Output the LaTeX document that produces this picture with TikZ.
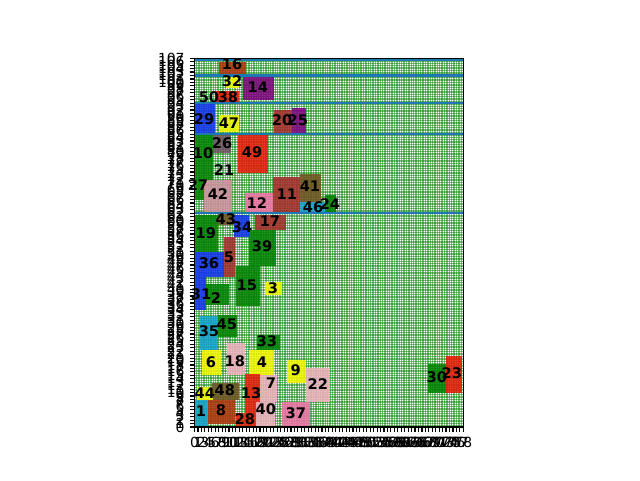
\documentclass[tikz,border=0pt]{standalone}
\usepackage{fontspec}
\setmainfont{DejaVu Sans}
\definecolor{mplblue}{HTML}{1F77B4}
\definecolor{mplgreen}{HTML}{008000}
\definecolor{boxred}{HTML}{E81808}
\definecolor{boxrust}{HTML}{B0300A}
\definecolor{boxbrown}{HTML}{A52A2A}
\definecolor{boxolive}{HTML}{6E5020}
\definecolor{boxplum}{HTML}{6E5060}
\definecolor{boxpurple}{HTML}{800080}
\definecolor{boxpink}{HTML}{F070A8}
\definecolor{boxmauve}{HTML}{D090A0}
\definecolor{boxpale}{HTML}{F0B0C0}
\definecolor{boxcyan}{HTML}{10A0D0}
\definecolor{boxblue}{HTML}{1030F0}
\definecolor{boxyellow}{HTML}{F8F800}
\tikzset{
  idlabel/.style={font=\fontsize{10.4}{12}\selectfont\bfseries, inner sep=0pt},
  ticklabel/.style={font=\fontsize{9.9}{11}\selectfont, inner sep=0pt},
  hatchline/.style={mplgreen, line width=0.55pt, opacity=0.5},
  boxfill/.style={fill opacity=0.86},
  shelf/.style={mplblue, line width=1.5pt},
  spine/.style={black, line width=0.8pt},
}
\begin{document}
\begin{tikzpicture}[x=0.08615cm, y=0.08615cm]
  \useasboundingbox (-56.44,-15.38) rectangle (129.28,123.91);
  % Bin
  \fill[white] (0,0) rectangle (78,107);
  \foreach \i in {0,0.5,...,78} \draw[hatchline] (\i,0) -- (\i,107);
  \foreach \j in {0,0.5,...,107} \draw[hatchline] (0,\j) -- (78,\j);
  % Top shelves
  \fill[boxfill, boxrust] (7,102) rectangle (15,106);
  \fill[boxfill, boxyellow] (9,98.4) rectangle (13,102);
  \fill[boxfill, boxpurple] (14,95) rectangle (23,102);
  \fill[boxfill, boxred] (6,94) rectangle (13,97.5);
  \fill[boxfill, boxblue] (0,85.3) rectangle (6,93.6);
  \fill[boxfill, boxyellow] (7,85.6) rectangle (13,90.5);
  \fill[boxfill, boxbrown] (23,85.3) rectangle (28.2,92.1);
  \fill[boxfill, boxpurple] (28.2,85.3) rectangle (32.5,92.7);
  % Middle shelf
  \fill[boxfill, mplgreen] (0,71.6) rectangle (5.5,85);
  \fill[boxfill, boxplum] (5.5,79.4) rectangle (10.5,85);
  \fill[boxfill, boxred] (12.5,73.7) rectangle (21.4,85);
  \fill[boxfill, mplgreen] (0,65.8) rectangle (2.8,71.6);
  \fill[boxfill, boxmauve] (2.8,62) rectangle (11,71.6);
  \fill[boxfill, boxpink] (14.6,62) rectangle (22.8,67.8);
  \fill[boxfill, boxbrown] (22.8,62) rectangle (30.6,72.5);
  \fill[boxfill, boxolive] (30.6,65.3) rectangle (36.6,73.4);
  \fill[boxfill, boxcyan] (30.6,62) rectangle (37.8,65.3);
  \fill[boxfill, mplgreen] (37.8,62) rectangle (41.2,67.3);
  % Bottom shelf
  \fill[boxfill, boxolive] (6.9,58.6) rectangle (11.5,62);
  \fill[boxfill, boxblue] (11.5,55) rectangle (15.9,61.5);
  \fill[boxfill, boxbrown] (17.5,57.3) rectangle (26.5,61.5);
  \fill[boxfill, mplgreen] (0,50.8) rectangle (6.9,61.5);
  \fill[boxfill, mplgreen] (15.9,46.7) rectangle (23.6,57.3);
  \fill[boxfill, boxbrown] (8.6,43.6) rectangle (11.7,55);
  \fill[boxfill, boxblue] (0,43.6) rectangle (8.6,50.8);
  \fill[boxfill, boxblue] (0,33.9) rectangle (3.3,43.6);
  \fill[boxfill, mplgreen] (3.3,35.4) rectangle (10,41.5);
  \fill[boxfill, mplgreen] (12,35) rectangle (19,46.7);
  \fill[boxfill, boxyellow] (20.4,38.3) rectangle (25.3,42.1);
  \fill[boxfill, boxcyan] (1.6,22.3) rectangle (6.9,32.2);
  \fill[boxfill, mplgreen] (6.9,26.2) rectangle (12.2,32.5);
  \fill[boxfill, mplgreen] (18.2,22.3) rectangle (24.8,26.7);
  \fill[boxfill, boxyellow] (2.1,15.1) rectangle (7.6,22.3);
  \fill[boxfill, boxpale] (9.3,15.1) rectangle (14.6,24.4);
  \fill[boxfill, boxyellow] (15.9,15.1) rectangle (23,22.3);
  \fill[boxfill, boxyellow] (26.7,12.8) rectangle (32.5,19.4);
  \fill[boxfill, boxpale] (32.5,7.3) rectangle (39.3,17.1);
  \fill[boxfill, boxpale] (19,7.3) rectangle (23.8,15.1);
  \fill[boxfill, boxred] (14.6,4) rectangle (19,15.4);
  \fill[boxfill, boxolive] (5,7.8) rectangle (13,12.8);
  \fill[boxfill, boxyellow] (0.6,7.8) rectangle (5.5,11.7);
  \fill[boxfill, boxcyan] (0,0) rectangle (4,7.8);
  \fill[boxfill, boxrust] (4,1) rectangle (11.7,7.8);
  \fill[boxfill, boxred] (12,0) rectangle (17.8,4);
  \fill[boxfill, boxpale] (17.8,0) rectangle (23.3,7.3);
  \fill[boxfill, boxpink] (25.3,0) rectangle (33.5,7.3);
  \fill[boxfill, mplgreen] (67.8,9.9) rectangle (73.1,18.3);
  \fill[boxfill, boxred] (73.1,9.9) rectangle (77.5,20.6);
  % Shelf lines
  \foreach \h in {62,85,94,102,106.5} \draw[shelf] (0,\h) -- (78,\h);
  % Box numbers
  \node[idlabel] (n16) at (10.9,105.2) {16};
  \node[idlabel] (n32) at (10.9,100.3) {32};
  \node[idlabel] (n14) at (18.4,98.6) {14};
  \node[idlabel] (n50) at (4.2,95.7) {50};
  \node[idlabel] (n38) at (9.7,95.7) {38};
  \node[idlabel] (n29) at (2.8,89.3) {29};
  \node[idlabel] (n47) at (10.0,88.1) {47};
  \node[idlabel] (n20) at (25.4,89.0) {20};
  \node[idlabel] (n25) at (30.0,89.0) {25};
  \node[idlabel] (n26) at (8.0,82.3) {26};
  \node[idlabel] (n10) at (2.5,79.4) {10};
  \node[idlabel] (n49) at (16.7,79.7) {49};
  \node[idlabel] (n21) at (8.6,74.5) {21};
  \node[idlabel] (n27) at (1.0,70.2) {27};
  \node[idlabel] (n42) at (6.8,67.6) {42};
  \node[idlabel] (n41) at (33.5,69.9) {41};
  \node[idlabel] (n11) at (26.8,67.6) {11};
  \node[idlabel] (n12) at (18.1,64.9) {12};
  \node[idlabel] (n46) at (34.4,63.8) {46};
  \node[idlabel] (n24) at (39.3,64.7) {24};
  \node[idlabel] (n43) at (9.1,60.3) {43};
  \node[idlabel] (n34) at (13.8,58.0) {34};
  \node[idlabel] (n17) at (21.9,59.7) {17};
  \node[idlabel] (n19) at (3.3,56.2) {19};
  \node[idlabel] (n39) at (19.6,52.5) {39};
  \node[idlabel] (n5) at (10.0,49.3) {5};
  \node[idlabel] (n36) at (4.2,47.6) {36};
  \node[idlabel] (n15) at (15.2,41.2) {15};
  \node[idlabel] (n3) at (22.8,40.3) {3};
  \node[idlabel] (n31) at (1.9,38.6) {31};
  \node[idlabel] (n2) at (6.2,37.4) {2};
  \node[idlabel] (n35) at (4.2,27.8) {35};
  \node[idlabel] (n45) at (9.4,29.9) {45};
  \node[idlabel] (n33) at (21.0,24.9) {33};
  \node[idlabel] (n6) at (4.8,18.8) {6};
  \node[idlabel] (n18) at (11.7,19.1) {18};
  \node[idlabel] (n4) at (19.6,18.8) {4};
  \node[idlabel] (n9) at (29.4,16.5) {9};
  \node[idlabel] (n22) at (35.8,12.5) {22};
  \node[idlabel] (n7) at (22.2,12.8) {7};
  \node[idlabel] (n48) at (8.8,10.7) {48};
  \node[idlabel] (n13) at (16.4,9.9) {13};
  \node[idlabel] (n44) at (3.0,9.9) {44};
  \node[idlabel] (n30) at (70.3,14.5) {30};
  \node[idlabel] (n23) at (74.7,15.7) {23};
  \node[idlabel] (n1) at (1.9,4.6) {1};
  \node[idlabel] (n8) at (7.7,4.9) {8};
  \node[idlabel] (n40) at (20.7,5.2) {40};
  \node[idlabel] (n37) at (29.4,4.1) {37};
  \node[idlabel] (n28) at (14.6,2.3) {28};
  % Axes
  \draw[spine] (0,0) rectangle (78,107);
  \foreach \i in {0,...,107} {
    \draw[spine] (0,\i) -- ++(-1.41,0);
    \node[ticklabel, anchor=east] (ytick\i) at (-2.8,\i) {\i};
  }
  \foreach \i in {0,...,78} {
    \draw[spine] (\i,0) -- ++(0,-1.41);
    \node[ticklabel, anchor=north] (xtick\i) at (\i,-2.8) {\i};
  }
\end{tikzpicture}
\end{document}
